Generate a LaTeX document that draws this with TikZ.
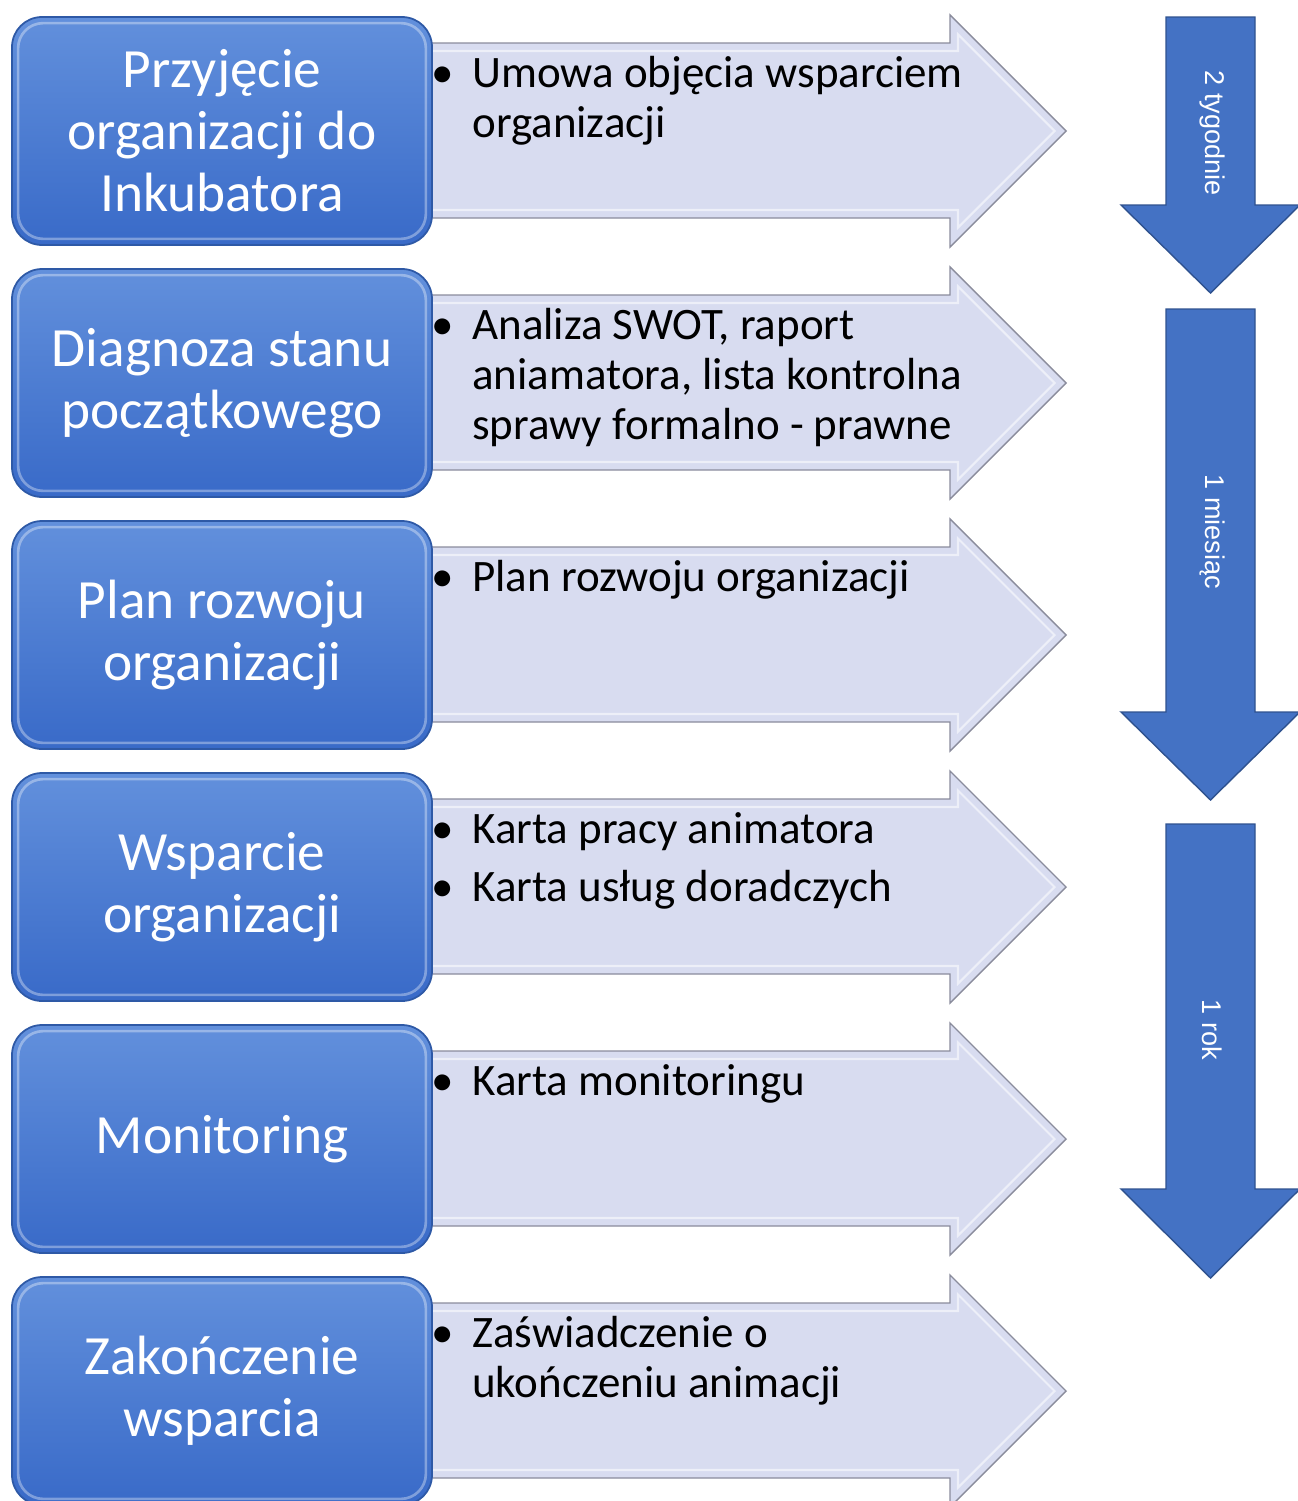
\documentclass[tikz,border=0pt]{standalone}
\usepackage{fontspec}
\setmainfont{Carlito}
\newfontfamily\arialfont{Liberation Sans}
\usepackage{xcolor}
\definecolor{stagetop}{HTML}{6290DC}
\definecolor{stagebot}{HTML}{396AC8}
\definecolor{stageline}{HTML}{2E59A6}
\definecolor{chevfill}{HTML}{D8DCF0}
\definecolor{chevline}{HTML}{8A8C9C}
\definecolor{timeblue}{HTML}{4472C4}
\definecolor{timeline}{HTML}{2F528F}
\usepackage{tikz}
\usetikzlibrary{positioning,calc}
\tikzset{
  stagebox/.style={rectangle, rounded corners=0.6cm, draw=stageline, line width=1pt,
    top color=stagetop, bottom color=stagebot, minimum width=8.4cm, minimum height=4.56cm,
    align=center, text=white, font=\fontsize{31.5}{35.3}\selectfont},
  stageglow/.style={rounded corners=0.5cm, draw=white, opacity=0.35, line width=1.5pt},
  itemtext/.style={anchor=base west, inner sep=0pt, align=flush left, text width=11.5cm,
    font=\fontsize{25.6}{28.5}\selectfont},
  chevron/.style={fill=chevfill, draw=chevline, line width=0.8pt},
  chevbevel/.style={draw=white, opacity=0.55, line width=1.2pt},
  timearrow/.style={fill=timeblue, draw=timeline, line width=0.8pt},
  timelabel/.style={rotate=-90, text=white, inner sep=0pt, font=\arialfont\fontsize{15.4}{17}\selectfont},
}
\newcommand{\bul}{\leavevmode\llap{\textbullet\hspace{0.36cm}}}

\begin{document}
\begin{tikzpicture}
  \useasboundingbox (0,0) rectangle (25.96,-30.02);

  % chevrons behind the stage boxes
  \foreach \r in {0,...,5}{
    \begin{scope}[yshift={-\r*5.04cm}]
      \filldraw[chevron] (8.5,-0.86) -- (19.0,-0.86) -- (19.0,-0.30) -- (21.32,-2.62)
        -- (19.0,-4.94) -- (19.0,-4.36) -- (8.5,-4.36) -- cycle;
      \draw[chevbevel] (8.6,-1.02) -- (19.16,-1.02) -- (19.16,-0.69) -- (21.09,-2.62)
        -- (19.16,-4.55) -- (19.16,-4.20) -- (8.6,-4.20);
    \end{scope}
  }

  % stages
  \node[stagebox] (s1) at (4.44, -2.62)  {Przyjęcie\\organizacji do\\Inkubatora};
  \node[stagebox] (s2) at (4.44, -7.66)  {Diagnoza stanu\\początkowego};
  \node[stagebox] (s3) at (4.44, -12.70) {Plan rozwoju\\organizacji};
  \node[stagebox] (s4) at (4.44, -17.74) {Wsparcie\\organizacji};
  \node[stagebox] (s5) at (4.44, -22.78) {Monitoring};
  \node[stagebox] (s6) at (4.44, -27.82) {Zakończenie\\wsparcia};
  \foreach \n in {s1,s2,s3,s4,s5,s6}
    \draw[stageglow] ($(\n.north west)+(0.14,-0.14)$) rectangle ($(\n.south east)+(-0.14,0.14)$);

  % documents for each stage
  \node[itemtext] (d1) at (9.44, -1.74)  {\bul Umowa objęcia wsparciem\\organizacji};
  \node[itemtext] (d2) at (9.44, -6.78)  {\bul Analiza SWOT, raport\\aniamatora, lista kontrolna\\sprawy formalno - prawne};
  \node[itemtext] (d3) at (9.44, -11.82) {\bul Plan rozwoju organizacji};
  \node[itemtext] (d4) at (9.44, -16.86) {\bul Karta pracy animatora\\[0.16cm]\bul Karta usług doradczych};
  \node[itemtext] (d5) at (9.44, -21.90) {\bul Karta monitoringu};
  \node[itemtext] (d6) at (9.44, -26.94) {\bul Zaświadczenie o\\ukończeniu animacji};

  % time arrows
  \foreach \top/\base/\tip in {-0.34/-4.10/-5.86, -6.18/-14.24/-16.00, -16.48/-23.78/-25.56}
    \filldraw[timearrow] (23.32,\top) -- (25.10,\top) -- (25.10,\base) -- (26.00,\base)
      -- (24.21,\tip) -- (22.42,\base) -- (23.32,\base) -- cycle;
  \node[timelabel] (t1) at (24.24, -2.66)  {2 tygodnie};
  \node[timelabel] (t2) at (24.24, -10.64) {1 miesiąc};
  \node[timelabel] (t3) at (24.24, -20.60) {1 rok};
\end{tikzpicture}
\end{document}
